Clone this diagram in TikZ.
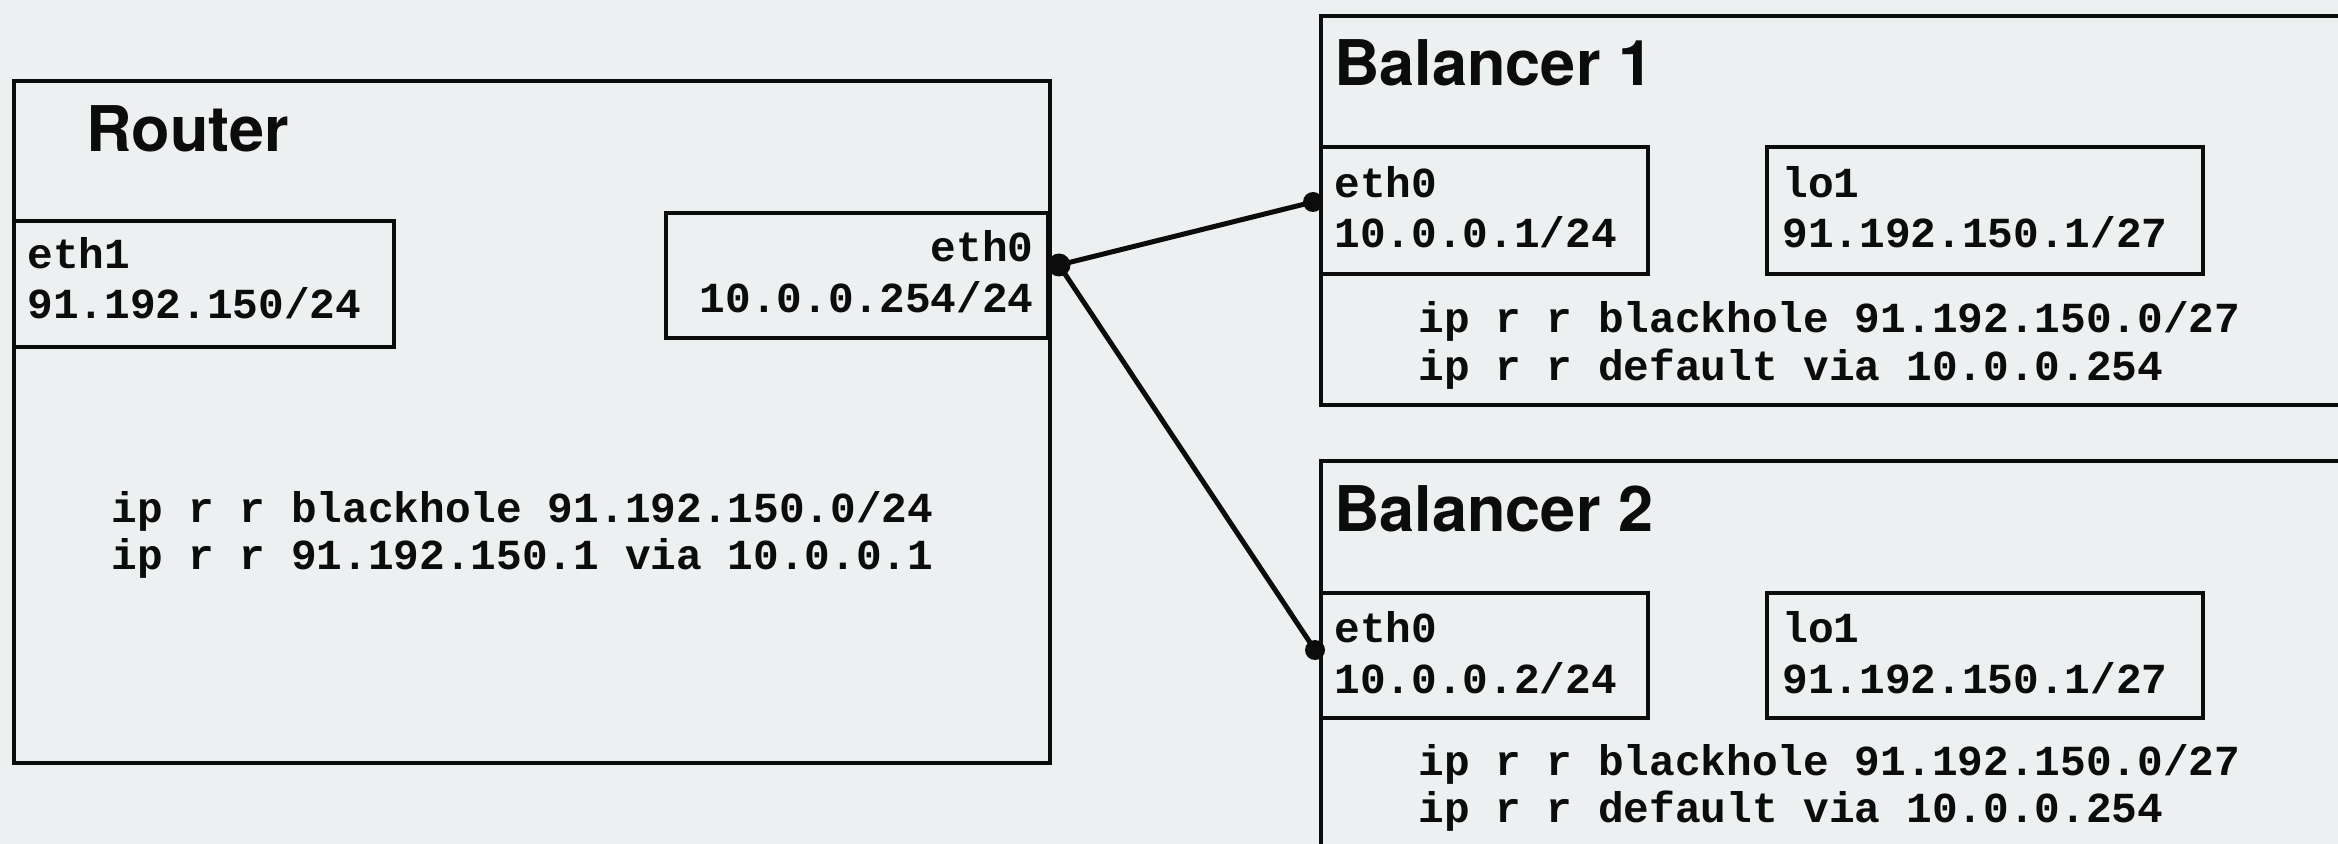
\documentclass[tikz,border=0pt]{standalone}
\usepackage{fontspec}
\newfontfamily\titlefont{TeX Gyre Heros}
\newfontfamily\codefont{Liberation Mono}
\definecolor{bgc}{RGB}{236,240,241}
\definecolor{ink}{RGB}{12,12,12}
\begin{document}
\begin{tikzpicture}[x=0.5pt,y=-0.5pt,
  boxline/.style={draw=ink,line width=1.6pt},
  ttl/.style={anchor=base west,inner sep=0pt,font=\titlefont\bfseries\fontsize{31.5}{36}\selectfont,text=ink},
  code/.style={anchor=base west,inner sep=0pt,font=\codefont\bfseries\fontsize{21.4}{24}\selectfont,text=ink},
  coder/.style={code,anchor=base east},
  dotnode/.style={circle,fill=ink,inner sep=0pt,minimum size=10pt},
  wire/.style={draw=ink,line width=2.5pt}]
\useasboundingbox (0,0) rectangle (2338,844);
\clip (0,0) rectangle (2338,844);
\fill[bgc] (0,0) rectangle (2338,844);

% Router
\draw[boxline] (14,81) rectangle (1050,763);
\node[ttl] (rtitle) at (86,152) {Router};
\draw[boxline] (14,221) rectangle (394,347);
\node[code] (reth1a) at (27,269) {eth1};
\node[code] (reth1b) at (27,319) {91.192.150/24};
\draw[boxline] (666,213) rectangle (1048,338);
\node[coder] (reth0a) at (1034,262) {eth0};
\node[coder] (reth0b) at (1034,313) {10.0.0.254/24};
\node[code] (rroute1) at (111,522) {ip r r blackhole 91.192.150.0/24};
\node[code] (rroute2) at (111,569) {ip r r 91.192.150.1 via 10.0.0.1};

% Balancer 1
\draw[boxline] (1321,16) rectangle (2360,405);
\node[ttl] (b1title) at (1334,86) {Balancer 1};
\draw[boxline] (1321,147) rectangle (1648,274);
\node[code] (b1eth0a) at (1334,198) {eth0};
\node[code] (b1eth0b) at (1334,248) {10.0.0.1/24};
\draw[boxline] (1767,147) rectangle (2203,274);
\node[code] (b1lo1a) at (1782,198) {lo1};
\node[code] (b1lo1b) at (1782,248) {91.192.150.1/27};
\node[code] (b1route1) at (1418,333) {ip r r blackhole 91.192.150.0/27};
\node[code] (b1route2) at (1418,380) {ip r r default via 10.0.0.254};

% Balancer 2
\draw[boxline] (1321,461) rectangle (2360,880);
\node[ttl] (b2title) at (1334,531) {Balancer 2};
\draw[boxline] (1321,593) rectangle (1648,718);
\node[code] (b2eth0a) at (1334,642) {eth0};
\node[code] (b2eth0b) at (1334,693) {10.0.0.2/24};
\draw[boxline] (1767,593) rectangle (2203,718);
\node[code] (b2lo1a) at (1782,642) {lo1};
\node[code] (b2lo1b) at (1782,693) {91.192.150.1/27};
\node[code] (b2route1) at (1418,775) {ip r r blackhole 91.192.150.0/27};
\node[code] (b2route2) at (1418,822) {ip r r default via 10.0.0.254};

% connectors
\node[dotnode,minimum size=11.5pt] (rdot) at (1059,265) {};
\node[dotnode] (b1dot) at (1313,202) {};
\node[dotnode] (b2dot) at (1315,650) {};
\draw[wire] (rdot.center) -- (b1dot.center);
\draw[wire] (rdot.center) -- (b2dot.center);
\end{tikzpicture}
\end{document}
